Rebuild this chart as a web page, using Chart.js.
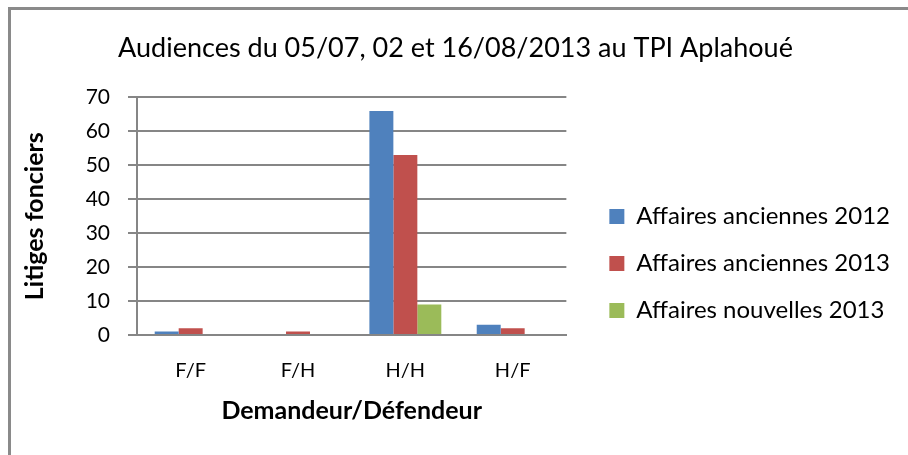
<!DOCTYPE html>
<html>
<head>
<meta charset="utf-8">
<script src="https://cdn.jsdelivr.net/npm/chart.js@4.4.1/dist/chart.umd.min.js"></script>
<style>
  html, body { margin: 0; padding: 0; background: #fff; }
  #frame {
    position: absolute; left: 8px; top: 7px;
    width: 897px; height: 445px;
    border-left: 3px solid #8a8a8a;
    border-top: 3px solid #8a8a8a;
  }
  #wrap { position: absolute; left: 11px; top: 10px; width: 897px; height: 445px; }
</style>
</head>
<body>
<div id="frame"></div>
<div id="wrap"><canvas id="audiencesChart"></canvas></div>
<script>
// Data
const categories = ['F/F', 'F/H', 'H/H', 'H/F'];
const anciennes2012 = [1, 0, 66, 3];
const anciennes2013 = [2, 1, 53, 2];
const nouvelles2013 = [0, 0, 9, 0];
const yTicks = [0, 10, 20, 30, 40, 50, 60, 70];

const fontFamily = 'Lato, "Open Sans", sans-serif';

const ctx = document.getElementById('audiencesChart').getContext('2d');

const audiencesChart = new Chart(ctx, {
    type: 'bar',
    data: {
        labels: categories,
        datasets: [{
            label: 'Affaires anciennes 2012',
            data: anciennes2012,
            backgroundColor: '#4F81BD'
        }, {
            label: 'Affaires anciennes 2013',
            data: anciennes2013,
            backgroundColor: '#C0504D'
        }, {
            label: 'Affaires nouvelles 2013',
            data: nouvelles2013,
            backgroundColor: '#9BBB59'
        }]
    },
    options: {
        responsive: true,
        maintainAspectRatio: false,
        animation: false,
        layout: { padding: { left: 0, right: 8, top: 0, bottom: 29 } },
        datasets: {
            bar: { barPercentage: 1, categoryPercentage: 0.67 }
        },
        plugins: {
            title: {
                display: true,
                text: 'Audiences du 05/07, 02 et 16/08/2013 au TPI Aplahoué',
                color: '#000',
                font: { family: fontFamily, size: 27, weight: 'normal' },
                padding: { top: 22, bottom: 33 }
            },
            legend: {
                position: 'right',
                align: 'center',
                maxWidth: 400,
                // empty title only pushes the items down to where the reference has them
                title: { display: true, text: ' ', font: { size: 10 }, padding: { top: 79, bottom: 0 } },
                labels: {
                    color: '#000',
                    font: { family: fontFamily, size: 24 },
                    boxWidth: 15,
                    boxHeight: 15,
                    padding: 23
                }
            },
            tooltip: { enabled: false }
        },
        scales: {
            x: {
                afterFit: scale => { scale.height = 91; },
                grid: { display: false },
                border: { display: true, color: '#868686', width: 2 },
                ticks: { color: '#000', font: { family: fontFamily, size: 20 }, padding: 16 },
                title: {
                    display: true,
                    text: 'Demandeur/Défendeur',
                    color: '#000',
                    font: { family: fontFamily, size: 25, weight: 'bold' },
                    padding: { top: 0, bottom: 0 }
                }
            },
            y: {
                min: 0,
                max: 70,
                afterBuildTicks: scale => {
                    scale.ticks = yTicks.map(v => ({ value: v }));
                },
                afterFit: scale => { scale.width = 126; },
                grid: { color: '#868686', lineWidth: 2, tickLength: 9 },
                border: { display: true, color: '#868686', width: 2 },
                ticks: { color: '#000', font: { family: fontFamily, size: 21 }, padding: 18 },
                title: {
                    display: true,
                    text: 'Litiges fonciers',
                    color: '#000',
                    font: { family: fontFamily, size: 25, weight: 'bold' },
                    padding: { top: 9, bottom: 0 }
                }
            },
            gap: {
                position: 'right',
                display: true,
                grid: { display: false },
                border: { display: false },
                ticks: { display: false },
                afterFit: scale => { scale.width = 20; }
            }
        }
    }
});
</script>
</body>
</html>
